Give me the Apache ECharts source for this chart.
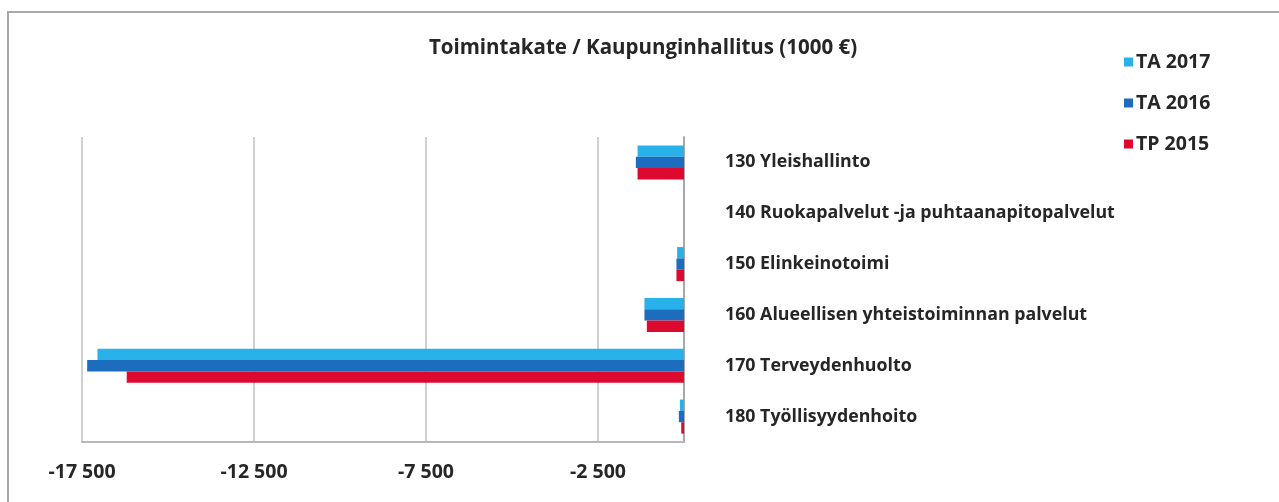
<!DOCTYPE html>
<html>
<head>
<meta charset="utf-8">
<script src="https://cdn.jsdelivr.net/npm/echarts@6/dist/echarts.min.js"></script>
<style>
html,body{margin:0;padding:0;background:#fff;}
#chart{width:1279px;height:502px;}
</style>
</head>
<body>
<div id="chart"></div>
<script>
const categories = ['130 Yleishallinto', '140 Ruokapalvelut -ja puhtaanapitopalvelut', '150 Elinkeinotoimi', '160 Alueellisen yhteistoiminnan palvelut', '170 Terveydenhuolto', '180 Työllisyydenhoito'];
const seriesNames = ['TA 2017', 'TA 2016', 'TP 2015'];
const ta2017 = [-1350, 0, -200, -1150, -17050, -120];
const ta2016 = [-1400, 0, -220, -1150, -17350, -150];
const tp2015 = [-1350, 0, -220, -1080, -16200, -80];
const xTicks = [-17500, -12500, -7500, -2500];

const colors = ['#29b2ea', '#1d6dbf', '#dc0a2e'];
const font = '"Open Sans", sans-serif';

function fmt(v) {
  const s = Math.abs(v).toString().replace(/\B(?=(\d{3})+(?!\d))/g, ' ');
  return (v < 0 ? '-' : '') + s;
}

const chart = echarts.init(document.getElementById('chart'));
chart.setOption({
  animation: false,
  backgroundColor: '#fff',
  title: {
    text: 'Toimintakate / Kaupunginhallitus (1000 €)',
    left: 638, top: 33, textAlign: 'center',
    textStyle: { fontFamily: font, fontWeight: 'bold', fontSize: 20.5, color: '#262626' }
  },
  legend: {
    data: seriesNames,
    orient: 'vertical',
    left: 1119, top: 47,
    itemWidth: 9, itemHeight: 9, itemGap: 21,
    icon: 'rect',
    textStyle: { fontFamily: font, fontWeight: 'bold', fontSize: 19.5, color: '#262626', padding: [0,0,0,-2] }
  },
  grid: { left: 82, right: 595, top: 137, bottom: 60 },
  xAxis: {
    type: 'value',
    min: -17500, max: 0, interval: 5000,
    axisLine: { show: true, onZero: false, lineStyle: { color: '#b8b8b8', width: 2 } },
    axisTick: { show: false },
    splitLine: { show: true, lineStyle: { color: '#d0d0d0', width: 2 } },
    axisLabel: {
      showMaxLabel: false, margin: 20,
      fontFamily: font, fontWeight: 'bold', fontSize: 19.5, color: '#262626',
      formatter: v => xTicks.indexOf(v) >= 0 ? fmt(v) : ''
    }
  },
  yAxis: {
    type: 'category', data: categories, inverse: true, position: 'right',
    axisLine: { show: true, onZero: false, lineStyle: { color: '#a8a8a8', width: 2 } },
    axisTick: { show: false },
    axisLabel: { margin: 41, fontFamily: font, fontWeight: 'bold', fontSize: 17.8, color: '#262626' }
  },
  series: [
    { name: seriesNames[0], type: 'bar', data: ta2017, itemStyle: { color: colors[0] }, barGap: '0%', barCategoryGap: '33%' },
    { name: seriesNames[1], type: 'bar', data: ta2016, itemStyle: { color: colors[1] }, barGap: '0%', barCategoryGap: '33%' },
    { name: seriesNames[2], type: 'bar', data: tp2015, itemStyle: { color: colors[2] }, barGap: '0%', barCategoryGap: '33%' }
  ],
  graphic: [{
    type: 'rect', silent: true, z: -1,
    shape: { x: 8, y: 12, width: 1280, height: 510 },
    style: { fill: null, stroke: '#a8a8a8', lineWidth: 2 }
  }]
});
</script>
</body>
</html>
